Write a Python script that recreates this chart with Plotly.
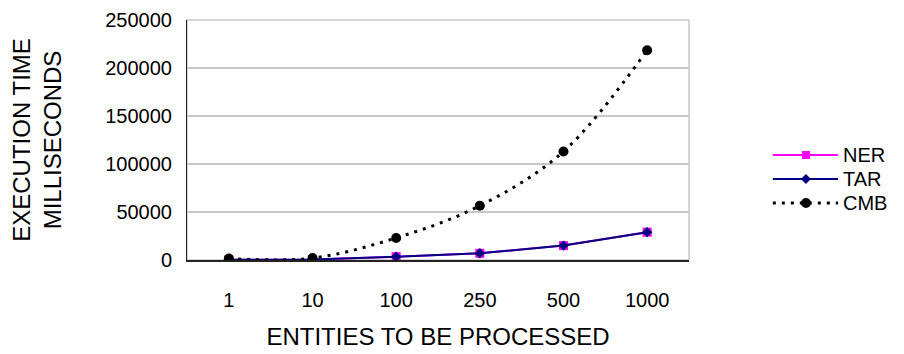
import plotly.graph_objects as go

categories = ["1", "10", "100", "250", "500", "1000"]
ner = [200, 500, 3500, 7000, 15000, 29000]
tar = [200, 500, 3500, 7000, 15000, 29000]
cmb = [1500, 2000, 23000, 56500, 113000, 218500]
y_ticks = [0, 50000, 100000, 150000, 200000, 250000]
series_names = ["NER", "TAR", "CMB"]

FONT = "Liberation Sans, Arial, sans-serif"
PINK, NAVY, BLACK = "#ff00ff", "#000080", "#000000"
CMB_DASH = "3px,6px"

fig = go.Figure()
fig.add_trace(go.Scatter(x=categories, y=ner, name="NER", mode="lines+markers",
                         line=dict(color=PINK, width=2),
                         marker=dict(symbol="square", size=9, color=PINK)))
fig.add_trace(go.Scatter(x=categories, y=tar, name="TAR", mode="lines+markers",
                         line=dict(color=NAVY, width=2),
                         marker=dict(symbol="diamond", size=8, color=NAVY)))
fig.add_trace(go.Scatter(x=categories, y=cmb, name="CMB", mode="lines+markers",
                         line=dict(color=BLACK, width=3, dash=CMB_DASH, shape="spline"),
                         marker=dict(symbol="circle", size=10, color=BLACK)))

fig.update_layout(
    width=904, height=354,
    margin=dict(l=187, r=215, t=20, b=94),
    paper_bgcolor="white", plot_bgcolor="white",
    font=dict(family=FONT, size=20, color="black"),
    showlegend=False,
    xaxis=dict(
        type="category", range=[-0.5, 5.5], automargin=False,
        showgrid=False, showline=True, linecolor="#222222", linewidth=1.5,
        mirror=False, ticks="", ticklabelstandoff=21,
        tickfont=dict(size=20),
        title=dict(text="ENTITIES TO BE PROCESSED", standoff=18, font=dict(size=24)),
        zeroline=False,
    ),
    yaxis=dict(
        range=[0, 250000], tickvals=y_ticks, ticktext=[str(v) for v in y_ticks],
        automargin=False,
        showgrid=True, gridcolor="#c8c8c8", gridwidth=1.5,
        showline=True, linecolor="#222222", linewidth=1,
        ticks="", ticklabelstandoff=10, zeroline=False,
        tickfont=dict(size=20),
        title=dict(text="EXECUTION TIME<br>MILLISECONDS", standoff=36, font=dict(size=24)),
    ),
)
# gray plot-area border on top/right
fig.add_shape(type="rect", xref="paper", yref="paper", x0=0, y0=0, x1=1, y1=1,
              line=dict(color="#c8c8c8", width=1.5), layer="below")

# custom legend (long sample lines like the original)
leg_x0, leg_x1, leg_xm, leg_tx = 1.167, 1.297, 1.233, 1.303
leg_ys = [0.4375, 0.3375, 0.2375]
styles = [
    dict(color=PINK, dash="solid", width=2, sym="square"),
    dict(color=NAVY, dash="solid", width=2, sym="diamond"),
    dict(color=BLACK, dash=CMB_DASH, width=3, sym="circle"),
]
for name, yy, st in zip(series_names, leg_ys, styles):
    fig.add_shape(type="line", xref="paper", yref="paper", x0=leg_x0, x1=leg_x1,
                  y0=yy, y1=yy, line=dict(color=st["color"], width=st["width"], dash=st["dash"]))
    common = dict(xref="paper", yref="paper", xsizemode="pixel", ysizemode="pixel",
                  xanchor=leg_xm, yanchor=yy, fillcolor=st["color"],
                  line=dict(color=st["color"], width=0))
    if st["sym"] == "square":
        fig.add_shape(type="rect", x0=-4, x1=4, y0=-4, y1=4, **common)
    elif st["sym"] == "circle":
        fig.add_shape(type="circle", x0=-5, x1=5, y0=-5, y1=5, **common)
    else:
        fig.add_shape(type="path", path="M0,-5 L5,0 L0,5 L-5,0 Z", **common)
    fig.add_annotation(xref="paper", yref="paper", x=leg_tx, y=yy, text=name,
                       showarrow=False, xanchor="left", yanchor="middle",
                       font=dict(size=20, family=FONT, color="black"))

fig.write_html("out.html")
